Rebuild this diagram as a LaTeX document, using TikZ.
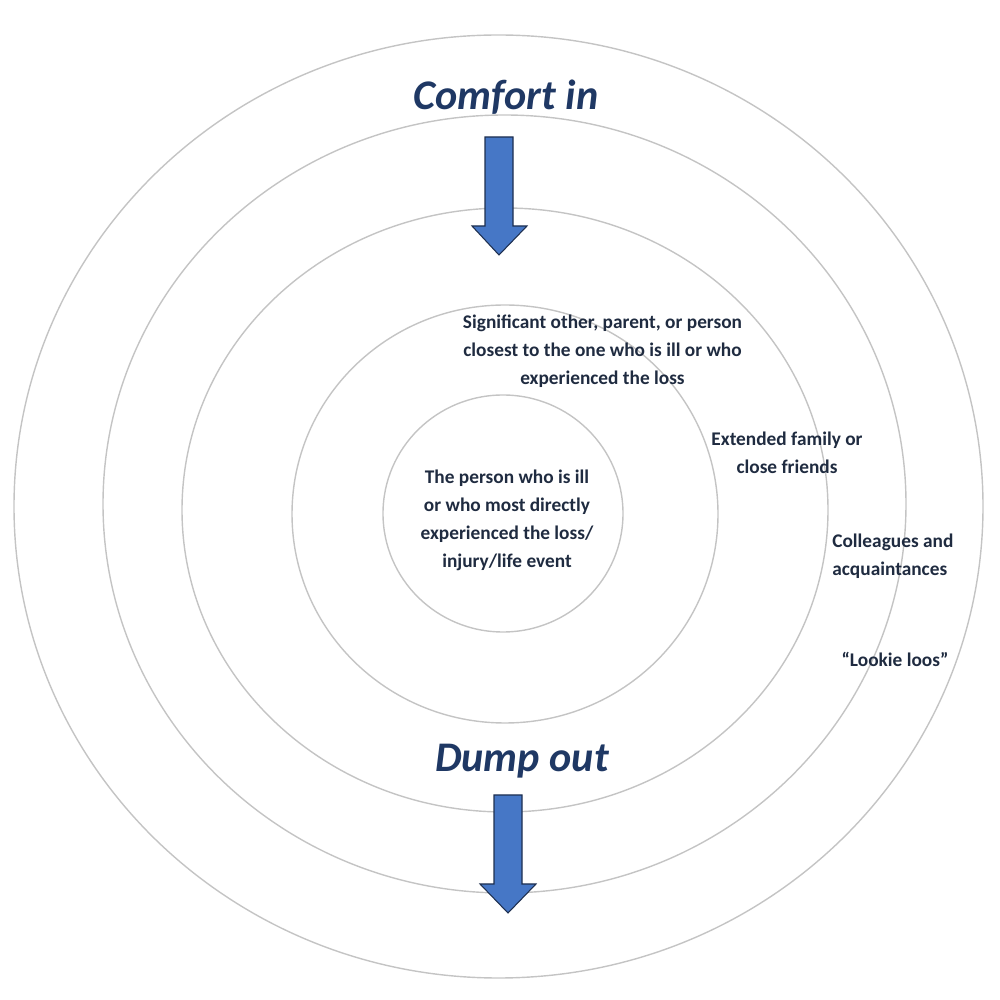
\documentclass[tikz,border=0pt]{standalone}
\usepackage{fontspec}
\setmainfont{Carlito}
\usepackage{tikz}
\usetikzlibrary{positioning}
\definecolor{ringgray}{HTML}{C4C4C4}
\definecolor{titleblue}{HTML}{1F3864}
\definecolor{labelnavy}{HTML}{1F2B40}
\definecolor{arrowfill}{HTML}{4677C6}
\definecolor{arrowedge}{HTML}{1E2F4F}
\tikzset{
	ring/.style={draw=ringgray, line width=0.8pt}
}
\tikzset{
	titletext/.style={font=\fontsize{24}{28}\selectfont\bfseries\itshape, text=titleblue, anchor=base, inner sep=0pt},
	ringtext/.style={font=\fontsize{11}{16}\selectfont\bfseries, text=labelnavy, align=center, inner sep=0pt},
	bigarrow/.style={fill=arrowfill, draw=arrowedge, line width=0.6pt, line join=miter}
}

\begin{document}
\begin{tikzpicture}
      \useasboundingbox (0,0) rectangle (20,20);
      % rings, inner to outer
      \foreach \cx/\cy/\rx/\ry in {10.06/9.73/2.40/2.37, 10.10/9.72/4.26/4.18, 10.10/9.80/6.46/6.04,
                                   10.09/9.92/8.03/7.78, 9.97/9.87/9.69/9.43}
        {\draw[ring] (\cx,\cy) ellipse [x radius=\rx, y radius=\ry];}
      % comfort in
      \node[titletext] (comfort) at (10.12,17.80) {Comfort in};
      \draw[bigarrow] (9.70,17.26) -- (10.26,17.26) -- (10.26,15.48) -- (10.54,15.48)
        -- (9.98,14.90) -- (9.44,15.48) -- (9.70,15.48) -- cycle;
      % dump out
      \node[titletext] (dump) at (10.44,4.56) {Dump out};
      \draw[bigarrow] (9.88,4.10) -- (10.44,4.10) -- (10.44,2.32) -- (10.72,2.32)
        -- (10.16,1.74) -- (9.60,2.32) -- (9.88,2.32) -- cycle;
      % ring labels
      \node[ringtext] (person) at (10.14,9.59) {The person who is ill\\or who most directly\\experienced the loss/\\injury/life event};
      \node[ringtext] (closest) at (12.05,12.98) {Significant other, parent, or person\\closest to the one who is ill or who\\experienced the loss};
      \node[ringtext] (family) at (15.74,10.94) {Extended family or\\close friends};
      \node[ringtext, anchor=west, align=left] (colleagues) at (16.64,8.88) {Colleagues and\\acquaintances};
      \node[ringtext] (lookie) at (17.90,6.82) {“Lookie loos”};
\end{tikzpicture}
\end{document}
